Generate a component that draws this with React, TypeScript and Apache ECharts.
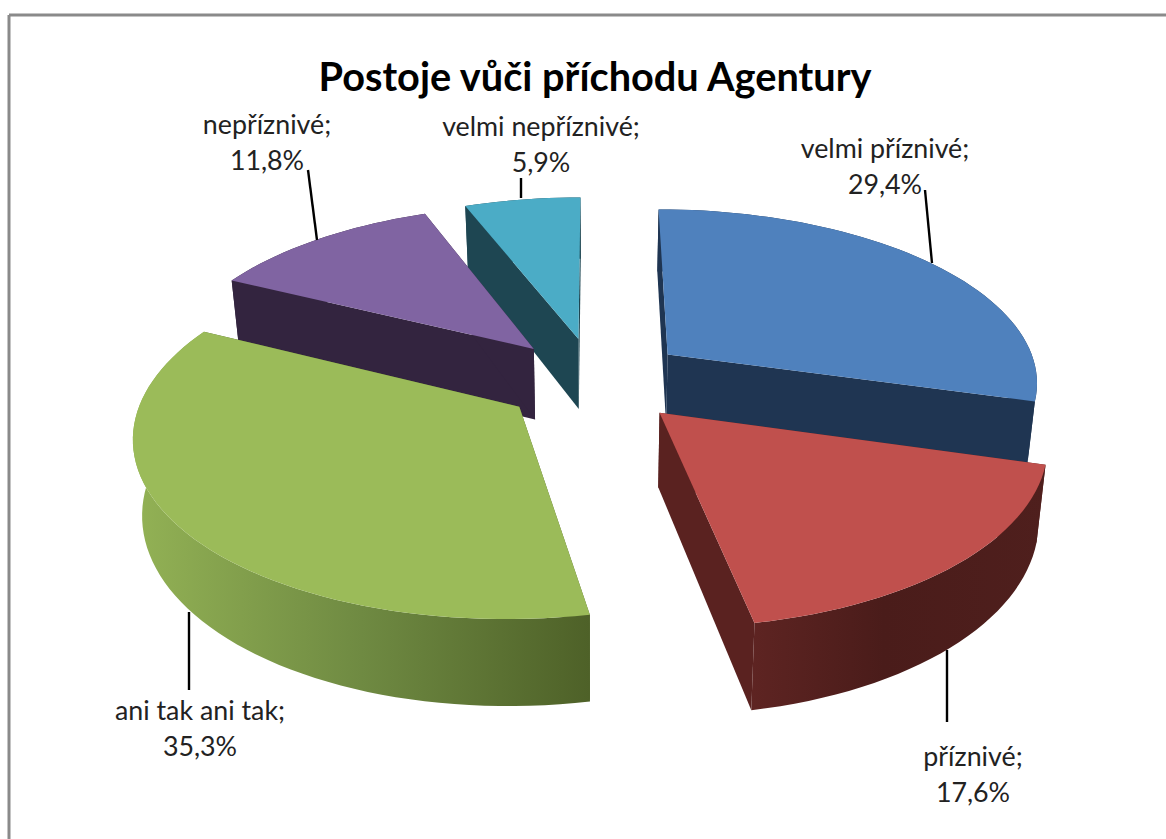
import React, { useEffect, useRef } from "react";
import * as echarts from "echarts";

const titleText = "Postoje vůči příchodu Agentury";
const categories = ["velmi příznivé", "příznivé", "ani tak ani tak", "nepříznivé", "velmi nepříznivé"];
const shares = [29.4, 17.6, 35.3, 11.8, 5.9];

const topColors = ["#4f81bd", "#c0504d", "#9bbb59", "#8064a2", "#4bacc6"];
const radialColors = ["#1f3552", "#5a2220", "#4f6228", "#33243f", "#1e4652"];
const wallStops: [number, string][][] = [
  [[0, "#1f3552"], [1, "#1f3552"]],
  [[0, "#5e2422"], [0.45, "#4a1c1a"], [1, "#4f1f1d"]],
  [[0, "#93b255"], [0.5, "#6f8a42"], [1, "#4e6128"]],
  [[0, "#33243f"], [1, "#33243f"]],
  [[0, "#1e4652"], [1, "#1e4652"]],
];
const drawOrder = [4, 3, 0, 2, 1];
const labelCenters = [[885, 130], [973, 738], [200, 692], [267, 106], [541, 108]];
const leaders = [
  [[925, 190], [932, 263]],
  [[947, 650], [947, 722]],
  [[189, 612], [189, 690]],
  [[308, 170], [317, 240]],
  [[521, 178], [521, 198]],
];

const Cx = 595, Cy = 380, A = 372, B = 173, K = 0.145, D = 72.5, EX = 0.25, EY = 0.25, BOTTOM = 0.98;
const FONT = "Lato, 'Open Sans', sans-serif";

function project(wx: number, wy: number, z: number): number[] {
  const s = 1 / (1 - K * wy);
  const f = z ? BOTTOM : 1;
  return [Cx + A * wx * s * f, Cy + B * wy * s + z * D * s];
}

function renderSlice(_p: any, api: any) {
  const i = api.value(0) as number;
  const total = shares.reduce((a, b) => a + b, 0);
  const before = shares.slice(0, i).reduce((a, b) => a + b, 0);
  const a0 = (before / total) * Math.PI * 2;
  const a1 = ((before + api.value(1)) / total) * Math.PI * 2;
  const mid = (a0 + a1) / 2;
  const ox = EX * Math.sin(mid), oy = -EY * Math.cos(mid);
  const at = (t: number, z: number) => project(ox + Math.sin(t), oy - Math.cos(t), z);
  const apexT = project(ox, oy, 0), apexB = project(ox, oy, 1);
  const steps = Math.max(8, Math.ceil((a1 - a0) / (Math.PI / 90)));
  const angles: number[] = [];
  for (let n = 0; n <= steps; n++) angles.push(a0 + ((a1 - a0) * n) / steps);
  const arcTop = angles.map((t) => at(t, 0));
  const arcBottom = angles.map((t) => at(t, 1));
  const polygon = (points: number[][], fill: any) => ({
    type: "polygon",
    shape: { points },
    style: { fill, stroke: null },
  });
  const wall = polygon(
    [...arcTop, ...arcBottom.slice().reverse()],
    new echarts.graphic.LinearGradient(0, 0, 1, 0, wallStops[i].map(([offset, color]) => ({ offset, color })))
  );
  const c = shares[i].toFixed(1).replace(".", ",");
  return {
    type: "group",
    children: [
      polygon([apexT, arcTop[0], arcBottom[0], apexB], radialColors[i]),
      polygon([apexT, arcTop[steps], arcBottom[steps], apexB], radialColors[i]),
      wall,
      polygon([apexT, ...arcTop], topColors[i]),
      {
        type: "line",
        shape: { x1: leaders[i][0][0], y1: leaders[i][0][1], x2: leaders[i][1][0], y2: leaders[i][1][1] },
        style: { stroke: "#000", lineWidth: 2.4 },
        z2: 10,
      },
      {
        type: "text",
        z2: 10,
        style: {
          text: `${categories[i]};\n${c}%`,
          x: labelCenters[i][0],
          y: labelCenters[i][1],
          textAlign: "center",
          textVerticalAlign: "top",
          fill: "#222",
          font: `26.8px ${FONT}`,
          lineHeight: 36,
        },
      },
    ],
  };
}

export default function App() {
  const ref = useRef<HTMLDivElement>(null);
  useEffect(() => {
    const chart = echarts.init(ref.current!, undefined, { renderer: "svg" });
    chart.setOption({
      animation: false,
      backgroundColor: "#fff",
      title: {
        text: titleText,
        left: 590,
        top: 50,
        textAlign: "center",
        textStyle: { fontFamily: FONT, fontWeight: "bold", fontSize: 39.7, color: "#000" },
      },
      graphic: [
        { type: "line", shape: { x1: 9, y1: 15, x2: 1166, y2: 15 }, style: { stroke: "#8a8a8a", lineWidth: 3 } },
        { type: "line", shape: { x1: 9, y1: 15, x2: 9, y2: 839 }, style: { stroke: "#8a8a8a", lineWidth: 3 } },
      ],
      series: [
        {
          type: "custom",
          coordinateSystem: "none",
          silent: true,
          renderItem: renderSlice,
          data: drawOrder.map((i) => [i, shares[i]]),
        },
      ],
    });
    return () => chart.dispose();
  }, []);
  return <div ref={ref} style={{ position: "fixed", left: 0, top: 0, width: 1166, height: 839 }} />;
}
